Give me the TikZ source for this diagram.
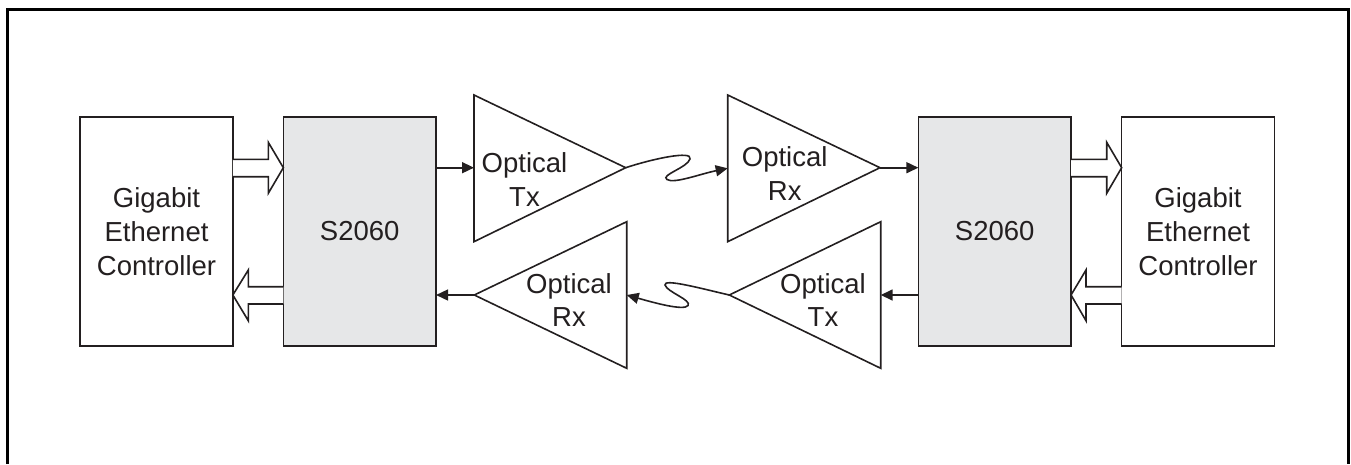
\documentclass[tikz,border=0pt]{standalone}
\usepackage{fontspec}
\setmainfont{Liberation Sans}
\usetikzlibrary{arrows.meta}
\definecolor{boxgray}{RGB}{230,231,232}
\definecolor{ink}{RGB}{35,31,32}
\begin{document}
\begin{tikzpicture}[x=1pt,y=-1pt,
  lbl/.style={font=\fontsize{27.5}{33.7}\selectfont, text=ink, align=center, inner sep=0pt},
  blk/.style={draw=ink, line width=1.6pt, minimum width=152.7pt, minimum height=229pt,
              inner sep=0pt, outer sep=0pt, align=center, text=ink,
              font=\fontsize{27.5}{33.7}\selectfont},
  chip/.style={blk, fill=boxgray},
  tri/.style={draw=ink, line width=1.6pt, fill=white, line join=miter},
  hollow/.style={draw=ink, line width=1.6pt, fill=white, line join=miter},
  sig/.style={draw=ink, line width=1.6pt, -{Triangle[length=12pt,width=11pt]}},
  frame/.style={draw=black, line width=3pt}]
\useasboundingbox (0,0) rectangle (1351,464);
% frame (top, left, right)
\draw[frame] (7,464) -- (7,9.5) -- (1348.5,9.5) -- (1348.5,464);

% blocks
\node[blk]  (ge1) at (156.5,231.5) {Gigabit\\Ethernet\\Controller};
\node[chip] (s1)  at (359.7,231.5) {S2060};
\node[chip] (s2)  at (994.7,231.5) {S2060};
\node[blk]  (ge2) at (1198,231.5)  {Gigabit\\Ethernet\\Controller};

% triangle end points
\coordinate (tx1in)  at (474,167.7);
\coordinate (tx1out) at (625.7,167.7);
\coordinate (rx1in)  at (727.7,168.3);
\coordinate (rx1out) at (880,167.7);
\coordinate (rx2in)  at (626.7,295);
\coordinate (rx2out) at (474.3,295);
\coordinate (tx2in)  at (880.7,295);
\coordinate (tx2out) at (729.3,295);

% triangles
\draw[tri] (474,95) -- (tx1out) -- (474,241.7) -- cycle;
\draw[tri] (727.7,95) -- (rx1out) -- (727.7,241.7) -- cycle;
\draw[tri] (626.7,221.7) -- (rx2out) -- (626.7,368.3) -- cycle;
\draw[tri] (880.7,221.7) -- (tx2out) -- (880.7,368.3) -- cycle;

\node[lbl] (tx1t) at (524.5,179.7) {Optical\\Tx};
\node[lbl] (rx1t) at (784.7,173.3) {Optical\\Rx};
\node[lbl] (rx2t) at (569,300.1)   {Optical\\Rx};
\node[lbl] (tx2t) at (823,300.1)   {Optical\\Tx};

% signal arrows
\draw[sig] (s1.east |- tx1in) -- (tx1in);
\draw[sig] (rx2out) -- (s1.east |- rx2out);
\draw[sig] (rx1out) -- (s2.west |- rx1out);
\draw[sig] (s2.west |- tx2in) -- (tx2in);

% fibres
\draw[sig] (tx1out) .. controls (652,159) and (693,150) .. (690,159)
  .. controls (687,168) and (660,175) .. (667,179.5)
  .. controls (674,184) and (700,174) .. (rx1in);
\draw[sig] (tx2out) .. controls (703,289) and (663,278) .. (665,285)
  .. controls (667,292) and (692,300) .. (688,305.5)
  .. controls (684,311) and (655,303) .. (rx2in);

% hollow bus arrows
\draw[hollow] (ge1.east |- 0,159.3) -- (268.3,159.3) -- (268.3,142.3) -- (s1.west |- 0,167.7)
  -- (268.3,193.3) -- (268.3,176.7) -- (ge1.east |- 0,176.7);
\draw[hollow] (s1.west |- 0,286.7) -- (248.3,286.7) -- (248.3,270) -- (ge1.east |- 0,295)
  -- (248.3,320.7) -- (248.3,304) -- (s1.west |- 0,304);
\draw[hollow] (s2.east |- 0,159.3) -- (1106.7,159.3) -- (1106.7,142.3) -- (ge2.west |- 0,167.7)
  -- (1106.7,193.3) -- (1106.7,176.7) -- (s2.east |- 0,176.7);
\draw[hollow] (ge2.west |- 0,286.7) -- (1086,286.7) -- (1086,270) -- (s2.east |- 0,295)
  -- (1086,320.7) -- (1086,304) -- (ge2.west |- 0,304);
\end{tikzpicture}
\end{document}
